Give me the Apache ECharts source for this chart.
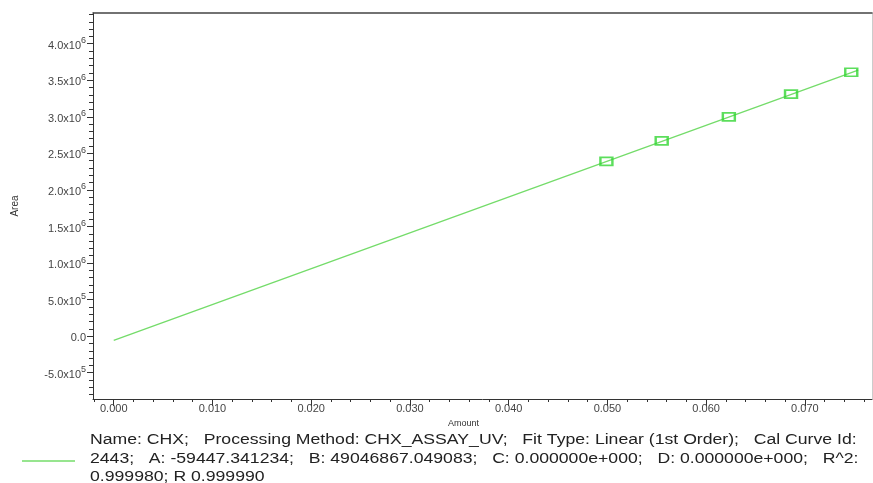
<!DOCTYPE html>
<html>
<head>
<meta charset="utf-8">
<script src="https://cdn.jsdelivr.net/npm/echarts@6/dist/echarts.min.js"></script>
<style>
html,body{margin:0;padding:0;background:#fff;}
#chart{width:873px;height:483px;}
</style>
</head>
<body>
<div id="chart"></div>
<script>
// ---- data ----
var standardAmounts = [0.0499, 0.0555, 0.0623, 0.0686, 0.0747];
var standardAreas   = [2390000, 2670000, 3000000, 3310000, 3610000];
var fitAmounts = [0, 0.0754];
var fitAreas   = [-59447.341234, 3638700];
var xTickValues = [0, 0.01, 0.02, 0.03, 0.04, 0.05, 0.06, 0.07];
var xTickLabels = ['0.000', '0.010', '0.020', '0.030', '0.040', '0.050', '0.060', '0.070'];
var yTickValues = [-500000, 0, 500000, 1000000, 1500000, 2000000, 2500000, 3000000, 3500000, 4000000];
var yTickMantissa = ['-5.0', '0.0', '5.0', '1.0', '1.5', '2.0', '2.5', '3.0', '3.5', '4.0'];
var yTickExponent = ['5', '', '5', '6', '6', '6', '6', '6', '6', '6'];
var xAxisName = 'Amount';
var yAxisName = 'Area';
var legendLines = [
  'Name: CHX;   Processing Method: CHX_ASSAY_UV;   Fit Type: Linear (1st Order);   Cal Curve Id:',
  '2443;   A: -59447.341234;   B: 49046867.049083;   C: 0.000000e+000;   D: 0.000000e+000;   R^2:',
  '0.999980; R 0.999990'
];

var chart = echarts.init(document.getElementById('chart'), null, {renderer: 'canvas'});
var FONT = '"Liberation Sans", Arial, sans-serif';

function yLabel(v) {
  for (var i = 0; i < yTickValues.length; i++) {
    if (Math.abs(yTickValues[i] - v) < 1) {
      if (yTickExponent[i] === '') return '{b|' + yTickMantissa[i] + '}';
      return '{b|' + yTickMantissa[i] + 'x10}{s|' + yTickExponent[i] + '}';
    }
  }
  return '';
}
function xLabel(v) {
  for (var i = 0; i < xTickValues.length; i++) {
    if (Math.abs(xTickValues[i] - v) < 1e-9) return xTickLabels[i];
  }
  return '';
}

var option = {
  backgroundColor: '#fff',
  animation: false,
  grid: {left: 93, top: 13, right: 1, bottom: 84, containLabel: false},
  xAxis: [{
    type: 'value', position: 'bottom',
    min: -0.0021, max: 0.0768, splitNumber: 8,
    name: xAxisName, nameLocation: 'middle', nameGap: 20,
    nameTextStyle: {fontFamily: FONT, fontSize: 9, color: '#333', padding: [0, 38, 0, 0]},
    axisLine: {show: true, onZero: false, lineStyle: {color: '#333', width: 1}},
    axisTick: {show: true, length: 7, customValues: xTickValues, lineStyle: {color: '#333'}},
    minorTick: {show: true, splitNumber: 5, length: 3, lineStyle: {color: '#333'}},
    axisLabel: {customValues: xTickValues, formatter: xLabel, fontFamily: FONT, fontSize: 11, color: '#444', margin: 4},
    splitLine: {show: false}
  }, {
    type: 'value', position: 'top',
    min: -0.0021, max: 0.0768,
    axisLine: {show: true, onZero: false, lineStyle: {color: '#444', width: 1.5}},
    axisTick: {show: false}, axisLabel: {show: false}, splitLine: {show: false}
  }],
  yAxis: [{
    type: 'value', position: 'left',
    min: -860000, max: 4420000, splitNumber: 10,
    name: yAxisName, nameLocation: 'middle', nameGap: 73, nameRotate: 90,
    nameTextStyle: {fontFamily: FONT, fontSize: 10, color: '#333'},
    axisLine: {show: true, onZero: false, lineStyle: {color: '#333', width: 1}},
    axisTick: {show: true, length: 6, customValues: yTickValues, lineStyle: {color: '#333'}},
    minorTick: {show: true, splitNumber: 5, length: 4, lineStyle: {color: '#333'}},
    axisLabel: {
      customValues: yTickValues, formatter: yLabel, margin: 7,
      rich: {
        b: {fontFamily: FONT, fontSize: 11, color: '#444', lineHeight: 15, verticalAlign: 'bottom'},
        s: {fontFamily: FONT, fontSize: 9, color: '#444', lineHeight: 15, verticalAlign: 'top'}
      }
    },
    splitLine: {show: false}
  }, {
    type: 'value', position: 'right',
    min: -860000, max: 4420000,
    axisLine: {show: true, onZero: false, lineStyle: {color: '#ccc', width: 1}},
    axisTick: {show: false}, axisLabel: {show: false}, splitLine: {show: false}
  }],
  series: [{
    name: 'fit', type: 'line', xAxisIndex: 0, yAxisIndex: 0,
    data: fitAmounts.map(function (x, i) { return [x, fitAreas[i]]; }),
    showSymbol: false, symbol: 'none',
    lineStyle: {color: '#74dc6a', width: 1.3},
    z: 2
  }, {
    name: 'standards', type: 'scatter', xAxisIndex: 0, yAxisIndex: 0,
    data: standardAmounts.map(function (x, i) { return [x, standardAreas[i]]; }),
    symbol: 'rect', symbolSize: [12, 8],
    itemStyle: {color: 'rgba(0,0,0,0)', borderColor: '#33d633', borderWidth: 2},
    z: 3
  }],
  graphic: [{
    type: 'line', shape: {x1: 22, y1: 461, x2: 75, y2: 461},
    style: {stroke: '#74dc6a', lineWidth: 1.5}
  }, {
    type: 'text', x: 90, y: 431, scaleX: 1.26,
    style: {text: legendLines.join('\n'), font: '14px ' + FONT, fill: '#222', lineHeight: 18.5}
  }]
};
chart.setOption(option);
</script>
</body>
</html>
